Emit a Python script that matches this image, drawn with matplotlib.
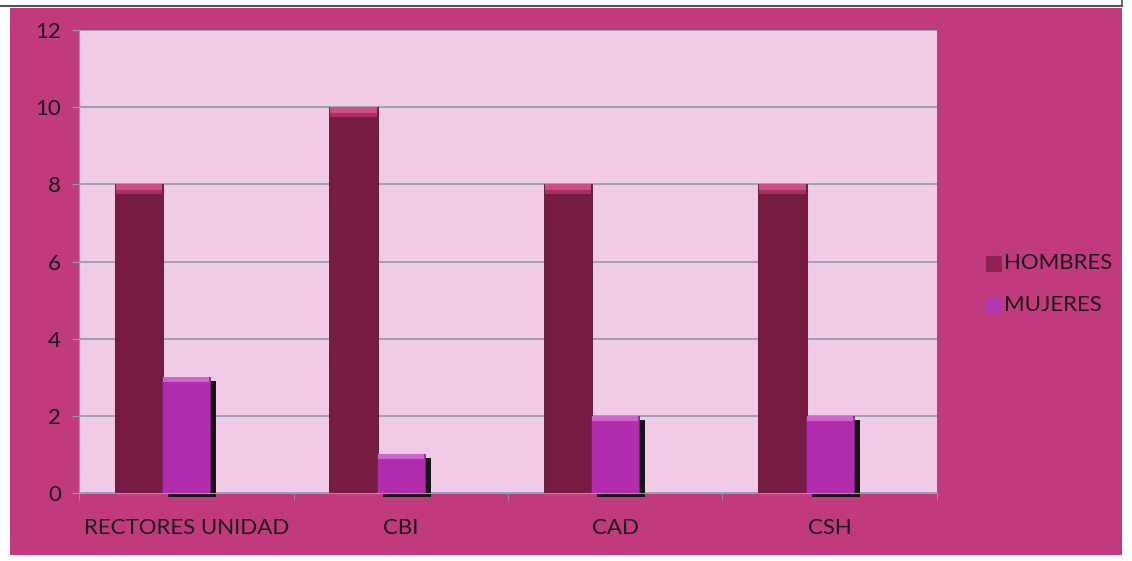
import matplotlib.pyplot as plt
import matplotlib.patches as patches

categorias = ["RECTORES UNIDAD", "CBI", "CAD", "CSH"]
hombres = [8, 10, 8, 8]
mujeres = [3, 1, 2, 2]

plt.rcParams['font.family'] = ['Lato', 'DejaVu Sans']

fig = plt.figure(figsize=(11.32, 5.61), dpi=100)
fig.patch.set_facecolor("white")

# marco magenta de fondo
fondo = patches.Rectangle((10 / 1132, 1 - 555 / 561), 1112 / 1132, 547 / 561,
                          transform=fig.transFigure, facecolor="#C23A7E",
                          edgecolor="none", zorder=-5)
fig.add_artist(fondo)
fig.add_artist(plt.Line2D([0, 1122 / 1132], [1 - 6 / 561, 1 - 6 / 561],
                          transform=fig.transFigure, color="#555555", lw=1.5))
fig.add_artist(plt.Line2D([1122 / 1132, 1122 / 1132], [1 - 6 / 561, 1],
                          transform=fig.transFigure, color="#555555", lw=1.2))

ax = fig.add_axes([79 / 1132, 1 - 493 / 561, 858 / 1132, 463 / 561])
ax.set_zorder(2)
ax.set_facecolor("#F1CBE6")

x = list(range(len(categorias)))
ancho = 0.225
x_h = [i - 0.22 for i in x]
x_m = [i + 0.0 for i in x]

# sombras de las barras de mujeres
ax.bar([i + 0.028 for i in x_m], mujeres, width=ancho, bottom=-0.1,
       color="#151515", zorder=2, clip_on=False)

ax.bar(x_h, hombres, width=ancho, color="#761C42", edgecolor="#5A1232",
       lw=0.6, zorder=3)
# bisel superior (degradado simple)
ax.bar(x_h, [0.25] * 4, bottom=[h - 0.25 for h in hombres],
       width=ancho * 0.96, color="#A8305E", zorder=4)
ax.bar(x_h, [0.14] * 4, bottom=[h - 0.14 for h in hombres],
       width=ancho * 0.96, color="#D04C84", zorder=5)
ax.bar(x_m, mujeres, width=ancho, color="#B22DAE", edgecolor="#7E1F7A",
       lw=0.6, zorder=3)
ax.bar(x_m, [0.13] * 4, bottom=[m - 0.13 for m in mujeres],
       width=ancho * 0.96, color="#CC66CC", zorder=4)

ax.set_xlim(-0.5, 3.5)
ax.set_ylim(0, 12)
ax.set_yticks(range(0, 13, 2))
ax.yaxis.grid(True, color="#8E9AB0", lw=1.2, zorder=1)
ax.set_axisbelow(True)

ax.set_xticks(x)
ax.set_xticklabels(categorias, fontsize=16, color="#1A1A1A")
ax.set_xticks([-0.5, 0.5, 1.5, 2.5, 3.5], minor=True)
ax.tick_params(axis="x", which="major", length=0, pad=18)
ax.tick_params(axis="x", which="minor", length=5, color="#8E9AB0")
ax.tick_params(axis="y", labelsize=16, labelcolor="#1A1A1A", length=5,
               color="#8E9AB0", pad=8)

for lado in ["top", "right"]:
    ax.spines[lado].set_visible(False)
ax.spines["left"].set_color("#8E9AB0")
ax.spines["bottom"].set_color("#8E9AB0")

# leyenda
fig.text(983 / 1132, 1 - 263 / 561, "■", color="#8C2350", fontsize=15,
         va="center", family=["DejaVu Sans"])
fig.text(1004 / 1132, 1 - 263 / 561, "HOMBRES", color="#1A1A1A", fontsize=16,
         va="center")
fig.text(983 / 1132, 1 - 305 / 561, "■", color="#B03AB0", fontsize=15,
         va="center", family=["DejaVu Sans"])
fig.text(1004 / 1132, 1 - 305 / 561, "MUJERES", color="#1A1A1A", fontsize=16,
         va="center")

fig.savefig("out.png", dpi=100, facecolor=fig.get_facecolor())
